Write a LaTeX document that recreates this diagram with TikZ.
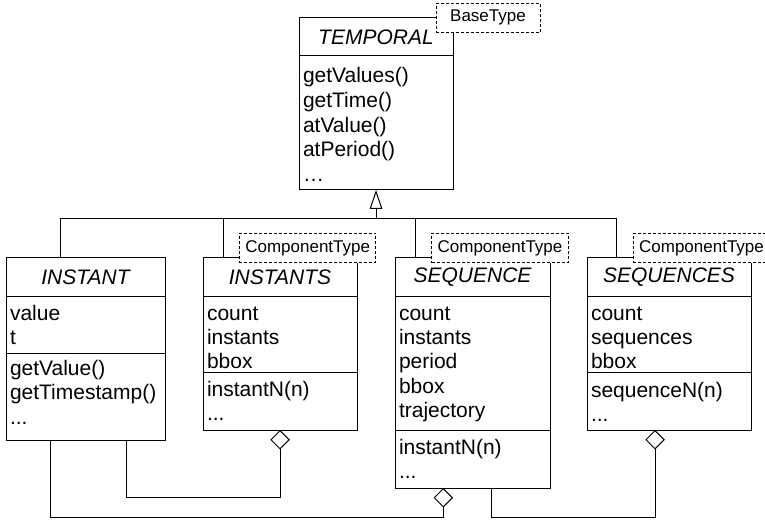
\documentclass[tikz,border=0pt]{standalone}
\usepackage{fontspec}
\setmainfont{Liberation Sans}
\usetikzlibrary{arrows.meta}
% height of the first row of a member list (top of compartment to first baseline)
\newcommand\memtop[1]{\rule{0pt}{#1}}
\begin{document}
\begin{tikzpicture}[x=1pt,y=-1pt]
\tikzset{
  umlline/.style={line width=1pt, draw=black},
  part/.style={draw=black, line width=1pt, fill=white, inner sep=0pt, outer sep=0pt, anchor=north west},
  classname/.style={part, font=\fontsize{21}{25}\selectfont\itshape},
  members/.style={anchor=north west, inner sep=0pt, outer sep=0pt, align=left, font=\fontsize{21}{24.4}\selectfont},
  stereo/.style={draw=black, line width=1pt, dash pattern=on 3pt off 2pt, fill=white, inner sep=0pt, outer sep=0pt, minimum height=29.5pt, font=\fontsize{17}{20}\selectfont},
  gen/.style={umlline, -{Triangle[open, length=19pt, width=12.7pt]}},
  agg/.style={umlline, -{Diamond[open, length=19.5pt, width=19.5pt]}},
}
\useasboundingbox (0,0) rectangle (765,521);

% ---- TEMPORAL ----
\node[classname, minimum width=154pt, minimum height=38pt] (tT) at (299,18) {TEMPORAL};
\node[part, minimum width=154pt, minimum height=134pt] (tO) at (tT.south west) {};
\node[members, font=\fontsize{21}{24.6}\selectfont] (tOt) at ([xshift=4pt]tO.north west)
  {\memtop{27pt}getValues()\\getTime()\\atValue()\\atPeriod()\\…};

% ---- INSTANT ----
\node[classname, minimum width=159pt, minimum height=39pt] (iT) at (6,257.5) {INSTANT};
\node[part, minimum width=159pt, minimum height=57pt] (iA) at (iT.south west) {};
\node[members] (iAt) at ([xshift=4pt]iA.north west) {\memtop{23.5pt}value\\t};
\node[part, minimum width=159pt, minimum height=86.5pt] (iO) at (iA.south west) {};
\node[members] (iOt) at ([xshift=4pt]iO.north west) {\memtop{22pt}getValue()\\getTimestamp()\\...};

% ---- INSTANTS ----
\node[classname, minimum width=154pt, minimum height=39pt] (isT) at (203,257.5) {INSTANTS};
\node[part, minimum width=154pt, minimum height=76pt] (isA) at (isT.south west) {};
\node[members] (isAt) at ([xshift=4pt]isA.north west) {\memtop{23.5pt}count\\instants\\bbox};
\node[part, minimum width=154pt, minimum height=57.5pt] (isO) at (isA.south west) {};
\node[members] (isOt) at ([xshift=4pt]isO.north west) {\memtop{23.5pt}instantN(n)\\...};

% ---- SEQUENCE ----
\node[classname, minimum width=155pt, minimum height=39pt] (sT) at (395,257.5) {SEQUENCE};
\node[part, minimum width=155pt, minimum height=134pt] (sA) at (sT.south west) {};
\node[members] (sAt) at ([xshift=4pt]sA.north west) {\memtop{23.5pt}count\\instants\\period\\bbox\\trajectory};
\node[part, minimum width=155pt, minimum height=57.5pt] (sO) at (sA.south west) {};
\node[members] (sOt) at ([xshift=4pt]sO.north west) {\memtop{23.5pt}instantN(n)\\...};

% ---- SEQUENCES ----
\node[classname, minimum width=164pt, minimum height=39pt] (ssT) at (587,257.5) {SEQUENCES};
\node[part, minimum width=164pt, minimum height=76pt] (ssA) at (ssT.south west) {};
\node[members] (ssAt) at ([xshift=4pt]ssA.north west) {\memtop{23.5pt}count\\sequences\\bbox};
\node[part, minimum width=164pt, minimum height=57.5pt] (ssO) at (ssA.south west) {};
\node[members] (ssOt) at ([xshift=4pt]ssO.north west) {\memtop{24.5pt}sequenceN(n)\\...};

% ---- generalization: all four specialise TEMPORAL ----
\coordinate (hub) at (tO.south |- 0,219);
\coordinate (gI)  at ([xshift=54pt]iT.north west);
\coordinate (gIS) at ([xshift=20pt]isT.north west);
\coordinate (gS)  at ([xshift=20pt]sT.north west);
\coordinate (gSS) at ([xshift=29.7pt]ssT.north west);
\draw[umlline] (gI) -- (gI |- hub) -- (gSS |- hub) -- (gSS);
\draw[umlline] (gIS) -- (gIS |- hub);
\draw[umlline] (gS) -- (gS |- hub);
\draw[gen] (hub) -- (tO.south);

% ---- aggregations ----
\coordinate (iEndA) at ([xshift=120.7pt]iO.south west);
\coordinate (iEndB) at ([xshift=44pt]iO.south west);
\coordinate (sWhole) at ([xshift=48.3pt]sO.south west);
\coordinate (sPart) at ([xshift=96.7pt]sO.south west);
\coordinate (ssWhole) at ([xshift=68pt]ssO.south west);
\draw[agg] (iEndA) -- (iEndA |- 0,497.7) -| (isO.south);
\draw[agg] (iEndB) -- (iEndB |- 0,517) -| (sWhole);
\draw[agg] (sPart) -- (sPart |- 0,517) -| (ssWhole);

% ---- stereotype tags ----
\node[stereo, minimum width=104pt] (tS) at (488,17.8) {BaseType};
\node[stereo, minimum width=136.5pt] (isS) at (307.7,248) {ComponentType};
\node[stereo, minimum width=136.5pt] (sS) at (500,248) {ComponentType};
\node[stereo, minimum width=136.5pt] (ssS) at (701.5,248) {ComponentType};
\end{tikzpicture}
\end{document}
